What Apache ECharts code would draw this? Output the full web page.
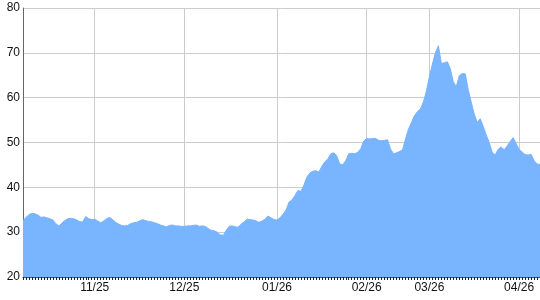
<!DOCTYPE html>
<html>
<head>
<meta charset="utf-8">
<script src="https://cdn.jsdelivr.net/npm/echarts@6/dist/echarts.min.js"></script>
<style>html,body{margin:0;padding:0;background:#fff;}#c{width:540px;height:300px;}</style>
</head>
<body>
<div id="c"></div>
<script>
const values = [
32.6,33.3,33.9,34.2,34.1,33.8,33.3,33.4,33.2,33.0,
32.7,31.9,31.4,32.0,32.6,33.0,33.1,33.0,32.7,32.3,
32.3,33.5,33.0,32.8,32.9,32.5,32.1,32.5,33.0,33.3,
32.8,32.2,31.8,31.5,31.4,31.5,31.9,32.1,32.2,32.5,
32.8,32.6,32.4,32.3,32.1,31.9,31.6,31.4,31.2,31.5,
31.6,31.4,31.4,31.3,31.3,31.4,31.4,31.5,31.6,31.3,
31.4,31.3,30.8,30.4,30.3,30.0,29.4,29.3,30.4,31.3,
31.4,31.2,31.1,31.8,32.3,32.9,32.8,32.7,32.5,32.2,
32.5,32.9,33.6,33.2,32.8,32.7,33.2,34.0,34.9,36.7,
37.2,38.2,39.3,39.1,40.5,42.3,43.2,43.6,43.7,43.4,
44.7,45.7,46.3,47.5,47.7,47.0,45.2,45.0,46.0,47.5,
47.6,47.5,47.8,48.6,50.3,50.9,50.8,50.9,50.9,50.5,
50.4,50.5,50.6,48.5,47.5,47.7,48.0,48.4,50.8,53.0,
54.5,56.0,56.9,57.5,59.1,61.5,64.7,67.5,70.0,71.6,
67.6,67.8,68.0,66.4,63.5,62.5,64.9,65.4,65.3,61.7,
59.0,56.3,54.5,55.3,53.6,51.7,50.0,47.8,47.2,48.5,
49.0,48.4,49.2,50.2,51.1,49.8,48.5,47.9,47.3,47.2,
47.4,46.0,45.2,45.1
];
const categories = values.map((v, i) => String(i));
const tickLabels = {24:'11/25', 54:'12/25', 85:'01/26', 115:'02/26', 136:'03/26', 166:'04/26'};
const yTicks = [20, 30, 40, 50, 60, 70, 80];

const chart = echarts.init(document.getElementById('c'), null, {renderer:'canvas'});
const showIdx = (i) => tickLabels[i] !== undefined;
chart.setOption({
  animation: false,
  grid: {left: 23, right: 0, top: 8, bottom: 23, containLabel: false},
  xAxis: {
    type: 'category',
    data: categories,
    boundaryGap: false,
    axisLine: {show: true, lineStyle: {color: '#555', width: 1}},
    axisTick: {show: true, interval: 0, length: 3, lineStyle: {color: '#222'}},
    axisLabel: {
      interval: (i) => showIdx(i),
      formatter: (v, i) => tickLabels[i] || '',
      color: '#111', fontSize: 12, fontFamily: 'Liberation Sans, Arial', margin: 5
    },
    splitLine: {show: true, interval: (i) => showIdx(i), lineStyle: {color: '#cccccc', width: 1}}
  },
  yAxis: {
    type: 'value',
    min: yTicks[0], max: yTicks[yTicks.length-1], interval: 10,
    axisLine: {show: true, lineStyle: {color: '#666', width: 1}},
    axisTick: {show: false},
    axisLabel: {color: '#111', fontSize: 12, fontFamily: 'Liberation Sans, Arial', margin: 3},
    splitLine: {show: true, lineStyle: {color: '#cccccc', width: 1}}
  },
  series: [{
    type: 'line',
    data: values,
    showSymbol: false,
    lineStyle: {width: 1, color: '#79b4ff'},
    areaStyle: {color: '#79b4ff', opacity: 1},
    z: 2
  }]
});
</script>
</body>
</html>
